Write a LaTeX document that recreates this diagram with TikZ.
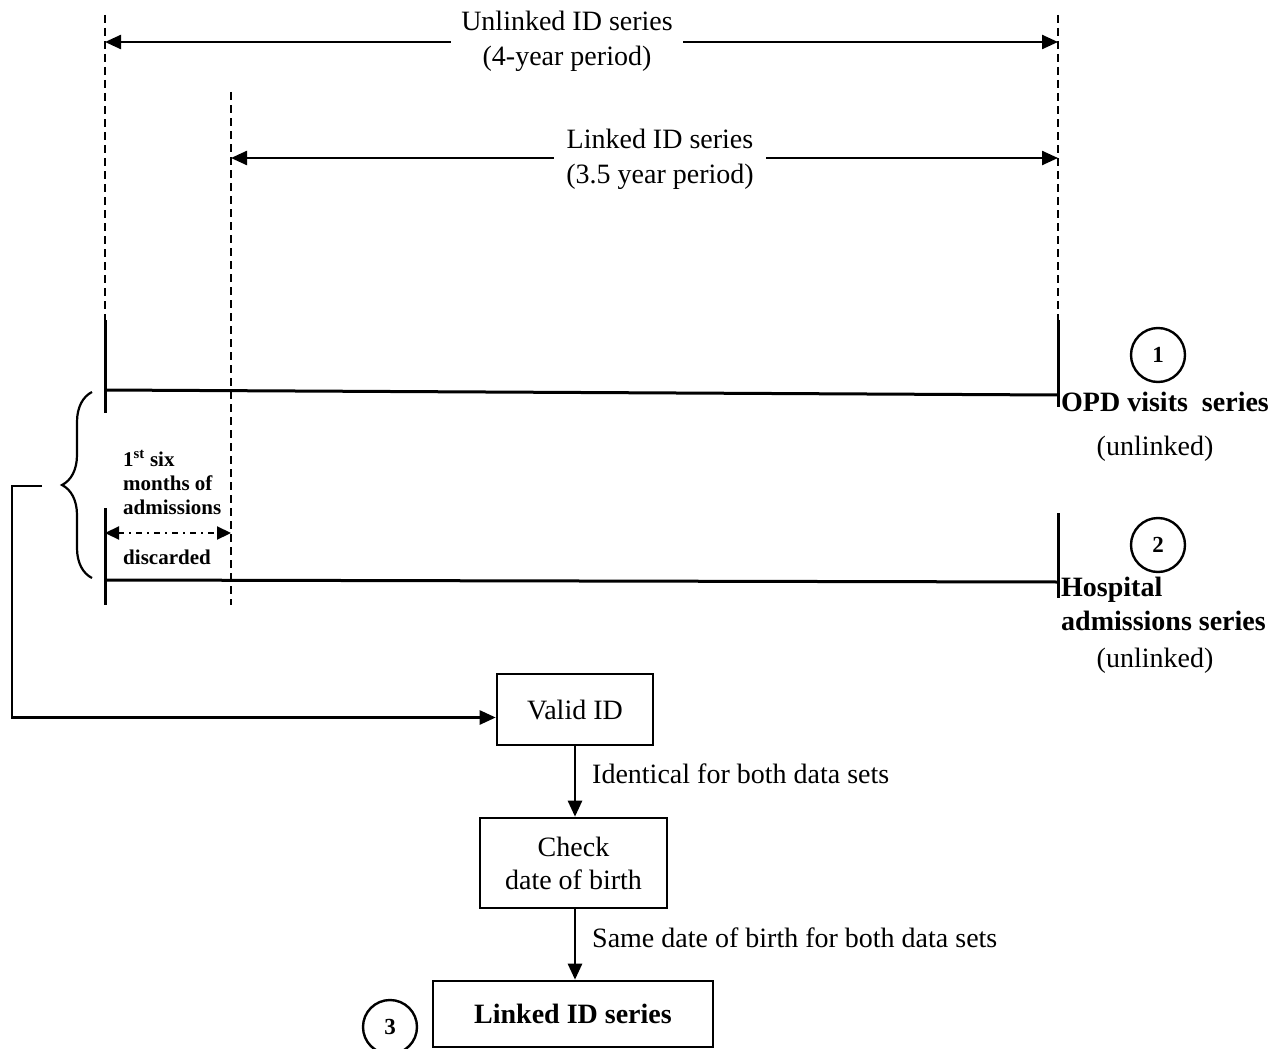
\documentclass[tikz,border=0pt]{standalone}
\usepackage{fontspec}
\setmainfont{Liberation Serif}
\usetikzlibrary{arrows.meta,decorations.pathreplacing}
\begin{document}
\begin{tikzpicture}[x=1pt,y=-1pt,
  big/.style={font=\fontsize{28}{35}\selectfont, inner sep=2pt, align=center},
  bigbold/.style={font=\fontsize{28}{34}\selectfont\bfseries, inner sep=2pt},
  small/.style={font=\fontsize{21}{24}\selectfont\bfseries, inner sep=1pt},
  tip/.style={-{Triangle[length=16pt,width=14pt]}},
  dbl/.style={{Triangle[length=16pt,width=14pt]}-{Triangle[length=16pt,width=14pt]}},
  solidln/.style={line width=3pt},
  dashln/.style={line width=2.2pt, dash pattern=on 8pt off 5pt},
  flowbox/.style={draw, line width=2.6pt, inner sep=2pt, align=center},
  circ/.style={draw, circle, line width=2.4pt, minimum size=54pt, inner sep=0pt, font=\fontsize{23}{23}\selectfont\bfseries},
]
\useasboundingbox (0,0) rectangle (1283,1049);

% coordinates of the time scale
\coordinate (lTop) at (105,15);
\coordinate (lS1a) at (105,320);
\coordinate (lS1b) at (105,413);
\coordinate (lS2a) at (105,508);
\coordinate (lS2b) at (105,605);
\coordinate (mTop) at (231,92);
\coordinate (mBot) at (231,605);
\coordinate (rTop) at (1058,15);
\coordinate (rS1a) at (1058,320);
\coordinate (rS1b) at (1058,407);
\coordinate (rS2a) at (1058,513);
\coordinate (rS2b) at (1058,598);

% dashed and solid verticals
\draw[dashln] (lTop) -- (lS1a);
\draw[dashln] (rTop) -- (rS1a);
\draw[dashln] (mTop) -- (mBot);
\draw[solidln] (lS1a) -- (lS1b);
\draw[solidln] (lS2a) -- (lS2b);
\draw[solidln] (rS1a) -- (rS1b);
\draw[solidln] (rS2a) -- (rS2b);

% series lines
\coordinate (opdL) at (105,390);
\coordinate (opdR) at (1058,395);
\coordinate (hosL) at (105,580);
\coordinate (hosR) at (1058,582);
\draw[solidln] (opdL) -- (opdR);
\draw[solidln] (hosL) -- (hosR);

% period arrows
\coordinate (uL) at (105,42);
\coordinate (uR) at (1058,42);
\coordinate (kL) at (231,158);
\coordinate (kR) at (1058,158);
\draw[dbl, line width=2.4pt] (uL) -- (uR);
\draw[dbl, line width=2.4pt] (kL) -- (kR);
\node[big, fill=white, inner xsep=10pt] (unl) at (567,41) {Unlinked ID series\\(4-year period)};
\node[big, fill=white, inner xsep=12pt] (lnk) at (660,159) {Linked ID series\\(3.5 year period)};

% series labels
\node[circ] (c1) at (1158,355) {1};
\node[bigbold, anchor=west] (opd) at (1059,402) {OPD visits\ \ series};
\node[big] (unl1) at (1155,449) {(unlinked)};
\node[circ] (c2) at (1158,545) {2};
\node[bigbold, anchor=north west, align=left] (hos) at (1059,575) {Hospital\\admissions series};
\node[big] (unl2) at (1155,661) {(unlinked)};

% discarded part
\node[small, anchor=north west, align=left] (six) at (122,449) {1\textsuperscript{st} six\\months of\\admissions};
\coordinate (dL) at (105,533);
\coordinate (dR) at (231,533);
\draw[{Triangle[length=14pt,width=13pt]}-{Triangle[length=14pt,width=13pt]}, line width=2.2pt, dash pattern=on 6pt off 5pt on 2pt off 5pt] (dL) -- (dR);
\node[small] (disc) at (167,557) {discarded};

% brace
\coordinate (brB) at (92,578);
\coordinate (brT) at (92,392);
\draw[line width=2.2pt, decorate, decoration={brace, amplitude=30pt}] (brB) -- (brT);
\coordinate (brk) at (42,486);

% flow chart
\node[flowbox, minimum width=156pt, minimum height=71pt, big] (valid) at (575,709.5) {Valid ID};
\node[flowbox, minimum width=187pt, minimum height=90pt, big, font=\fontsize{28}{33}\selectfont] (check) at (573.5,863) {Check\\date of birth};
\node[flowbox, minimum width=280pt, minimum height=66pt, bigbold] (linked) at (573,1014) {Linked ID series};
\node[circ] (c3) at (390,1027) {3};

\draw[tip, line width=2.6pt] (brk) -- ++(-30,0) |- ([yshift=-8pt]valid.west);
\draw[tip, line width=2.6pt] (valid.south) -- (valid.south |- check.north);
\draw[tip, line width=2.6pt] (valid.south |- check.south) -- (valid.south |- linked.north);
\node[big, anchor=west] (lab1) at (590,774) {Identical for both data sets};
\node[big, anchor=west] (lab2) at (590,938) {Same date of birth for both data sets};
\end{tikzpicture}
\end{document}
